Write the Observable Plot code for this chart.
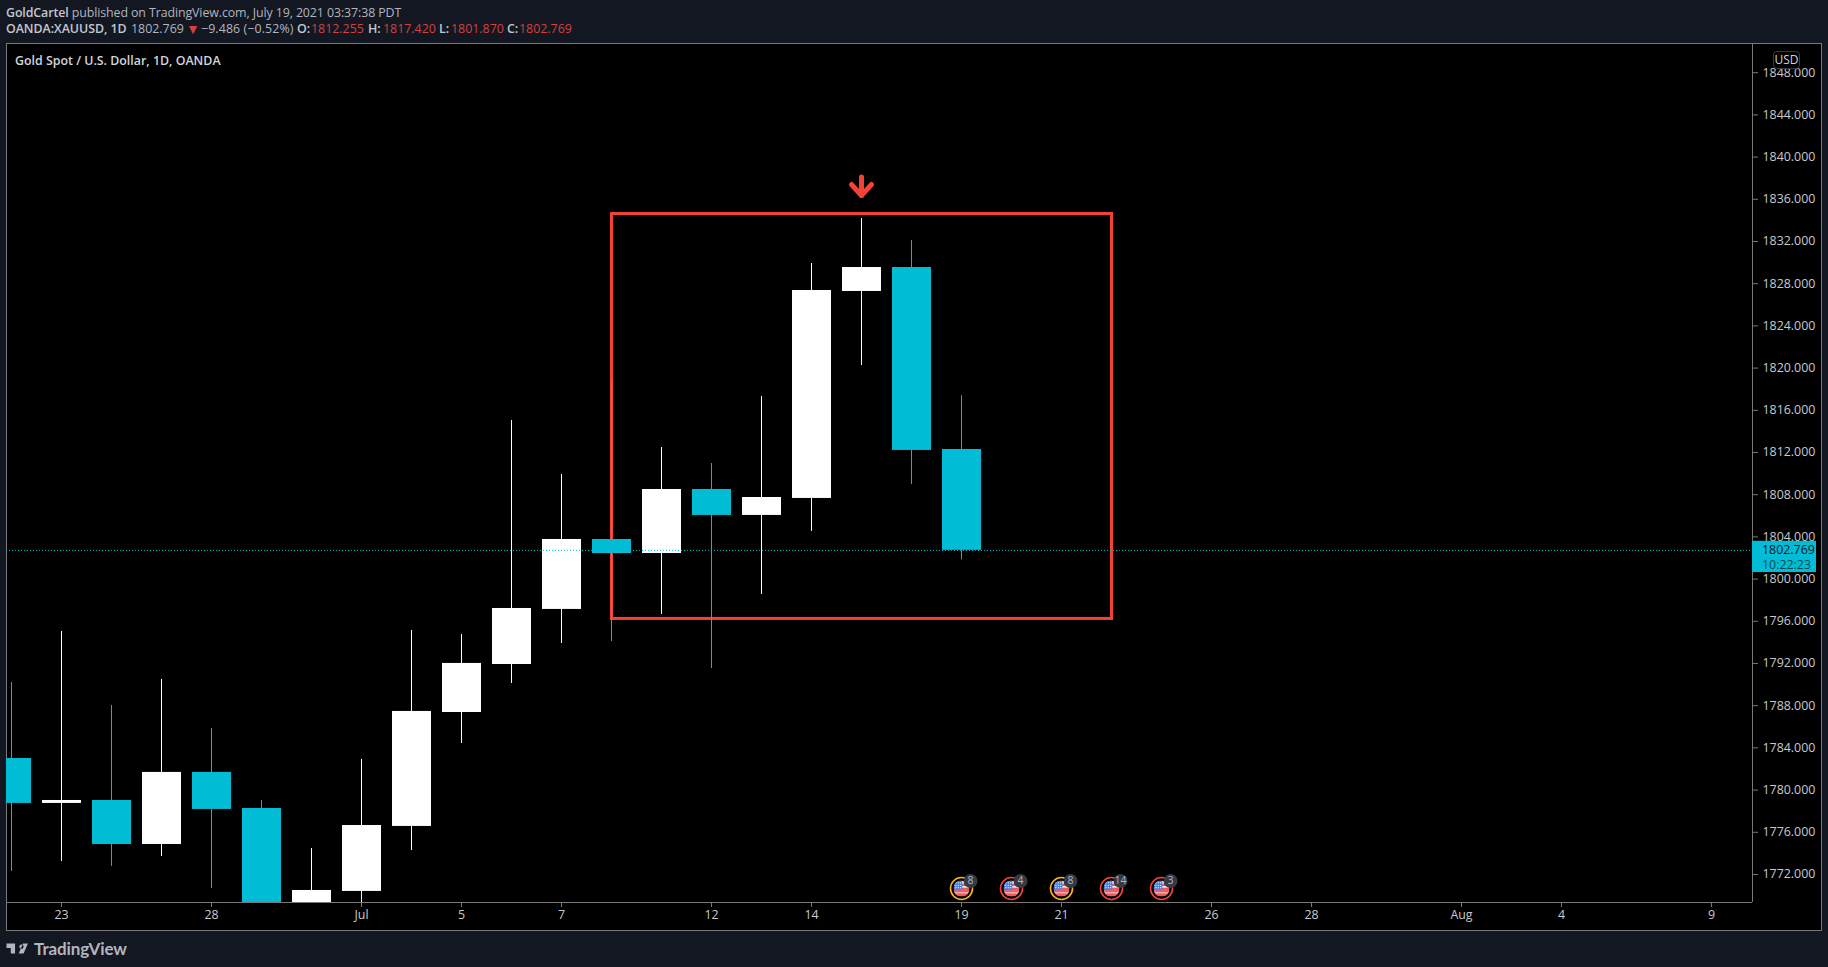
<!DOCTYPE html>
<html>
<head>
<meta charset="utf-8">
<script src="https://cdn.jsdelivr.net/npm/d3@7"></script>
<script src="https://cdn.jsdelivr.net/npm/@observablehq/plot@0.6"></script>
<style>
html,body{margin:0;padding:0;background:#131722;width:1828px;height:967px;overflow:hidden;font-family:"Open Sans",sans-serif;}
#panel{position:absolute;left:6px;top:43px;width:1816px;height:888px;box-sizing:border-box;background:#000;border:1px solid #787878;}
#chart{position:absolute;left:0;top:43px;}
#chart svg{background:transparent;display:block;}
.line{position:absolute;font-size:12.4px;color:#b2b5be;white-space:pre;line-height:16px;}
.line b{color:#c4c7cf;font-weight:600;}
.red{color:#d8403d;}
#paneTitle{position:absolute;left:15px;top:53px;font-size:12.4px;line-height:16px;color:#d1d4dc;font-weight:600;}
#usd{position:absolute;left:1773px;top:51px;width:27px;height:18px;box-sizing:border-box;border:1px solid #363a45;border-radius:4px;background:#000;color:#d1d4dc;font-size:12px;line-height:16px;text-align:center;}
#brand{position:absolute;left:6px;top:937px;height:22px;display:flex;align-items:center;color:#b2b5be;}
#brand span{font-size:17px;font-weight:700;margin-left:5px;letter-spacing:-0.1px;font-family:Lato,sans-serif;}
</style>
</head>
<body>
<div id="panel"></div>
<div id="chart"></div>
<div class="line" style="top:5px;left:6px;letter-spacing:-0.1px"><b>GoldCartel</b> published on TradingView.com, July 19, 2021 03:37:38 PDT</div>
<div class="line" style="top:21px;left:6px;letter-spacing:-0.05px"><b>OANDA:XAUUSD, 1D</b></div>
<div class="line" style="top:21px;left:131px">1802.769</div>
<div class="line red" style="top:21px;left:186px;font-size:14px">▼</div>
<div class="line" style="top:21px;left:201px;letter-spacing:0.1px">−9.486 (−0.52%)</div>
<div class="line" style="top:21px;left:297px"><b>O:</b></div>
<div class="line red" style="top:21px;left:311px">1812.255</div>
<div class="line" style="top:21px;left:368px"><b>H:</b></div>
<div class="line red" style="top:21px;left:383px">1817.420</div>
<div class="line" style="top:21px;left:439px"><b>L:</b></div>
<div class="line red" style="top:21px;left:451px">1801.870</div>
<div class="line" style="top:21px;left:507px"><b>C:</b></div>
<div class="line red" style="top:21px;left:519px">1802.769</div>
<div id="paneTitle">Gold Spot / U.S. Dollar, 1D, OANDA</div>
<div id="usd">USD</div>
<div id="brand"><svg width="23" height="11" viewBox="0 0 36 18"><path fill="#b2b5be" d="M0 1h14v16H7V8H0zM21 6a3.5 3.5 0 1 0 0-.01zM27 1h8l-7 16h-8z"/></svg><span>TradingView</span></div>
<script>
const dates = ["Jun 22","Jun 23","Jun 24","Jun 25","Jun 28","Jun 29","Jun 30","Jul 1","Jul 2","Jul 5","Jul 6","Jul 7","Jul 8","Jul 9","Jul 12","Jul 13","Jul 14","Jul 15","Jul 16","Jul 19"];
const opens  = [1783.04,1778.78,1779.06,1774.89,1781.72,1778.30,1767.50,1770.44,1776.60,1787.40,1791.95,1797.17,1803.80,1802.47,1808.54,1806.08,1807.69,1827.31,1829.58,1812.33];
const closes = [1778.78,1779.06,1774.89,1781.72,1778.21,1767.80,1770.53,1776.69,1787.50,1792.05,1797.26,1803.80,1802.47,1808.54,1806.08,1807.78,1827.40,1829.58,1812.24,1802.77];
const highs  = [1790.25,1795.08,1788.07,1790.53,1785.89,1779.06,1774.51,1782.95,1795.18,1794.80,1815.08,1809.96,1818.68,1812.52,1811.00,1817.36,1829.96,1834.23,1832.14,1817.42];
const lows   = [1772.33,1773.28,1772.81,1773.75,1770.72,1766.00,1766.50,1768.80,1774.32,1784.46,1790.15,1793.94,1794.13,1796.69,1791.57,1798.59,1804.56,1820.29,1809.01,1801.87];

const tickIndexes = [1,4,7,9,11,14,16,19,21,24,26,29,31,34];
const tickLabels  = ["23","28","Jul","5","7","12","14","19","21","26","28","Aug","4","9"];
const priceTicks  = d3.range(1772, 1849, 4);

const lastPrice = 1802.769;
const countdown = "10:22:23";

const boxFrom = 12, boxTo = 22, boxTop = 1834.65, boxBottom = 1796.27;
const arrowX = [17, 17, 16.8, 17, 17.2];
const arrowY = [1838.16, 1836.41, 1837.45, 1836.41, 1837.45];
const arrowPart = [0, 0, 1, 1, 1];

const eventIndexes = [19,20,21,22,23];
const eventCounts  = [8,4,8,14,3];
const eventColors  = ["#f9b51c","#f44336","#f9b51c","#f44336","#f44336"];
const eventLevel   = 1770.72;

const UP = "#ffffff", DOWN = "#00bcd4", RED = "#f44336", GREY = "#787878", AXTEXT = "#c8c9cc";

const candles = dates.map((date, i) => ({i, date, open: opens[i], close: closes[i], high: highs[i], low: lows[i], color: closes[i] >= opens[i] ? UP : DOWN}));
const events = eventIndexes.map((i, k) => ({i, count: eventCounts[k], color: eventColors[k], level: eventLevel}));
const arrowPoints = arrowX.map((x, k) => ({x, y: arrowY[k], part: arrowPart[k]}));

const flag = "data:image/svg+xml," + encodeURIComponent('<svg xmlns="http://www.w3.org/2000/svg" viewBox="0 0 20 20"><defs><clipPath id="c"><circle cx="10" cy="10" r="10"/></clipPath></defs><g clip-path="url(#c)"><rect width="20" height="20" fill="#f4f4f4"/><rect y="12" width="20" height="3" fill="#ee5a5f"/><rect y="16" width="20" height="4" fill="#ee5a5f"/><rect x="10" y="4" width="10" height="3" fill="#ee5a5f"/><rect x="10" y="9" width="10" height="3" fill="#ee5a5f"/><rect width="11" height="12" fill="#4a7fe0"/><g fill="#fff"><circle cx="3" cy="3" r=".8"/><circle cx="6" cy="3" r=".8"/><circle cx="9" cy="3" r=".8"/><circle cx="3" cy="6" r=".8"/><circle cx="6" cy="6" r=".8"/><circle cx="9" cy="6" r=".8"/><circle cx="3" cy="9" r=".8"/><circle cx="6" cy="9" r=".8"/><circle cx="9" cy="9" r=".8"/></g></g></svg>');

const plot = Plot.plot({
  width: 1828,
  height: 887,
  marginLeft: 6,
  marginRight: 76,
  marginTop: 0,
  marginBottom: 28,
  style: {background: "transparent", fontFamily: "'Open Sans',sans-serif", fontSize: "12.4px"},
  x: {type: "linear", domain: [-0.11, 34.81], axis: null},
  y: {type: "linear", domain: [1769.39, 1850.815], axis: null},
  marks: [
    Plot.axisY(priceTicks, {anchor: "right", tickFormat: d => d.toFixed(3), tickSize: 5, tickPadding: 5, dy: -0.5, color: GREY, fill: AXTEXT, label: null}),
    Plot.axisX(tickIndexes, {anchor: "bottom", tickFormat: d => tickLabels[tickIndexes.indexOf(d)], tickSize: 5, tickPadding: 3, dx: -0.5, color: GREY, fill: AXTEXT, label: null}),
    Plot.rect([0], {x1: boxFrom, x2: boxTo, y1: boxTop, y2: boxBottom, fill: "none", stroke: RED, strokeWidth: 3}),
    Plot.ruleX(candles, {x: "i", y1: "low", y2: "high", dx: -0.5, stroke: "color", strokeWidth: 1, clip: "frame"}),
    Plot.rect(candles, {x1: d => d.i - 0.39, x2: d => d.i + 0.39, y1: "open", y2: "close", fill: "color", clip: "frame"}),
    Plot.ruleY([lastPrice], {stroke: DOWN, strokeWidth: 1, strokeDasharray: "1,2"}),
    Plot.line(arrowPoints, {x: "x", y: "y", z: "part", dx: -0.5, stroke: RED, strokeWidth: 5, strokeLinecap: "round", strokeLinejoin: "round"}),
    Plot.ruleX([34.81], {stroke: GREY, strokeWidth: 1}),
    Plot.ruleY([1769.39], {stroke: GREY, strokeWidth: 1}),
    Plot.rect([0], {x1: 34.81, x2: 36.09, y1: lastPrice + 0.86, y2: lastPrice - 2.1, fill: DOWN, clip: false}),
    Plot.text([lastPrice], {x: 35.0, y: d => d, text: d => d.toFixed(3), fill: "#131722", textAnchor: "start", clip: false}),
    Plot.text([countdown], {x: 35.0, y: lastPrice, dy: 15, text: d => d, fill: "#0d4a55", textAnchor: "start", clip: false}),
    Plot.dot(events, {x: "i", y: "level", dx: -0.5, r: 11, stroke: "color", strokeWidth: 1.6, fill: "#000"}),
    Plot.image(events, {x: "i", y: "level", dx: -0.5, src: () => flag, width: 16, height: 16}),
    Plot.dot(events, {x: "i", y: "level", dx: 8.5, dy: -7.5, r: 7, fill: "#363a45"}),
    Plot.text(events, {x: "i", y: "level", dx: 8.5, dy: -7.5, text: d => String(d.count), fill: "#b2b5be", fontSize: 10.5})
  ]
});
document.getElementById("chart").append(plot);
</script>
</body>
</html>
